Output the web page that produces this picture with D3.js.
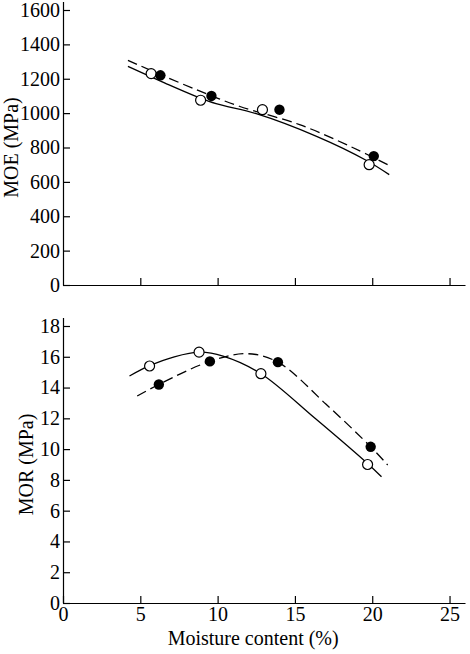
<!DOCTYPE html>
<html>
<head>
<meta charset="utf-8">
<script src="https://d3js.org/d3.v7.min.js"></script>
<style>
  body { margin: 0; background: #fff; }
  text { font-family: "Liberation Serif", "Times New Roman", serif; fill: #000; }
</style>
</head>
<body>
<div id="chart"></div>
<script>
// Define SVG area size
var svgWidth = 470;
var svgHeight = 654;

// Tick values
var moistureTicks = [0, 5, 10, 15, 20, 25];
var moeTicks = [0, 200, 400, 600, 800, 1000, 1200, 1400, 1600];
var morTicks = [0, 2, 4, 6, 8, 10, 12, 14, 16, 18];

// MOE measurements (open = solid line, filled = dashed line)
var moeOpenX = [5.7, 8.9, 12.9, 19.8];
var moeOpenY = [1230, 1075, 1020, 700];
var moeFilledX = [6.3, 9.6, 14.0, 20.1];
var moeFilledY = [1220, 1100, 1020, 750];

// MOE fitted curves
var moeSolidX = [4.2, 6.6, 8.6, 9.9, 12.5, 16.4, 19.6, 21.1];
var moeSolidY = [1272, 1175, 1098, 1055, 997, 865, 726, 642];
var moeDashX = [4.2, 8.6, 11.4, 15.3, 18.8, 21.0];
var moeDashY = [1307, 1137, 1040, 933, 797, 700];

// MOR measurements
var morOpenX = [5.6, 8.8, 12.8, 19.7];
var morOpenY = [15.4, 16.3, 14.9, 9.0];
var morFilledX = [6.2, 9.5, 13.9, 19.9];
var morFilledY = [14.2, 15.7, 15.65, 10.15];

// MOR fitted curves
var morSolidX = [4.3, 5.6, 7.2, 8.85, 10.35, 12.76, 16.3, 19.73, 20.6];
var morSolidY = [14.75, 15.42, 16.0, 16.3, 16.05, 14.93, 12.0, 9.03, 8.2];
var morDashX = [4.8, 6.2, 9.5, 11.9, 13.9, 17.0, 19.9, 21.0];
var morDashY = [13.45, 14.2, 15.7, 16.2, 15.65, 12.93, 10.15, 8.97];

var width = 402;
var fontSize = "20px";

var svg = d3.select("#chart")
  .append("svg")
  .attr("width", svgWidth)
  .attr("height", svgHeight);

// shared x scale
var xLinearScale = d3.scaleLinear()
  .domain([0, 26])
  .range([0, width]);

function zip(xs, ys) {
  return xs.map((x, i) => ({ x: x, y: ys[i] }));
}

// draws one panel
function drawPanel(opts) {
  var g = svg.append("g")
    .attr("transform", `translate(${opts.left}, ${opts.top})`);

  var yLinearScale = d3.scaleLinear()
    .domain([0, opts.ticks[opts.ticks.length - 1]])
    .range([opts.height, 0]);

  // x axis, ticks pointing inward
  var bottomAxis = d3.axisBottom(xLinearScale)
    .tickValues(opts.showXLabels ? moistureTicks : moistureTicks.slice(1))
    .tickSizeInner(-7)
    .tickSizeOuter(0)
    .tickPadding(4)
    .tickFormat(opts.showXLabels ? d3.format("d") : "");

  var xAxis = g.append("g")
    .attr("transform", `translate(0, ${opts.height})`)
    .call(bottomAxis);

  // y axis
  var leftAxis = d3.axisLeft(yLinearScale)
    .tickValues(opts.ticks)
    .tickSizeInner(-7)
    .tickSizeOuter(0)
    .tickPadding(3)
    .tickFormat(d3.format("d"));

  var yAxis = g.append("g").call(leftAxis);
  yAxis.select(".domain").remove();
  yAxis.append("line")
    .attr("x1", 0.5).attr("x2", 0.5)
    .attr("y1", opts.height + 0.5).attr("y2", -8)
    .attr("stroke", "#000");

  [xAxis, yAxis].forEach(function(a) {
    a.selectAll("text").style("font-size", fontSize).attr("fill", "#000");
    a.selectAll("path, line").attr("stroke", "#000").attr("stroke-width", 1.2);
  });

  var line = d3.line()
    .x(d => xLinearScale(d.x))
    .y(d => yLinearScale(d.y))
    .curve(d3.curveCatmullRom.alpha(0.5));

  g.append("path")
    .datum(zip(opts.solidX, opts.solidY))
    .attr("d", line)
    .attr("fill", "none")
    .attr("stroke", "#000")
    .attr("stroke-width", 1.3);

  g.append("path")
    .datum(zip(opts.dashX, opts.dashY))
    .attr("d", line)
    .attr("fill", "none")
    .attr("stroke", "#000")
    .attr("stroke-width", 1.3)
    .attr("stroke-dasharray", "10,5");

  g.selectAll(".open")
    .data(zip(opts.openX, opts.openY))
    .enter()
    .append("circle")
    .attr("cx", d => xLinearScale(d.x))
    .attr("cy", d => yLinearScale(d.y))
    .attr("r", 5)
    .attr("fill", "#fff")
    .attr("stroke", "#000")
    .attr("stroke-width", 1.2);

  g.selectAll(".filled")
    .data(zip(opts.filledX, opts.filledY))
    .enter()
    .append("circle")
    .attr("cx", d => xLinearScale(d.x))
    .attr("cy", d => yLinearScale(d.y))
    .attr("r", 5.2)
    .attr("fill", "#000");

  // y axis label
  svg.append("text")
    .attr("transform", `translate(${opts.labelX}, ${opts.top + opts.height / 2}) rotate(-90)`)
    .attr("text-anchor", "middle")
    .style("font-size", fontSize)
    .text(opts.label);

  return g;
}

drawPanel({
  left: 63, top: 10, height: 275,
  ticks: moeTicks, showXLabels: false,
  openX: moeOpenX, openY: moeOpenY,
  filledX: moeFilledX, filledY: moeFilledY,
  solidX: moeSolidX, solidY: moeSolidY,
  dashX: moeDashX, dashY: moeDashY,
  label: "MOE (MPa)", labelX: 18
});

drawPanel({
  left: 63, top: 326, height: 277,
  ticks: morTicks, showXLabels: true,
  openX: morOpenX, openY: morOpenY,
  filledX: morFilledX, filledY: morFilledY,
  solidX: morSolidX, solidY: morSolidY,
  dashX: morDashX, dashY: morDashY,
  label: "MOR (MPa)", labelX: 33
});

// x axis title
svg.append("text")
  .attr("x", 63 + xLinearScale(12.3))
  .attr("y", 645)
  .attr("text-anchor", "middle")
  .style("font-size", fontSize)
  .text("Moisture content (%)");
</script>
</body>
</html>
